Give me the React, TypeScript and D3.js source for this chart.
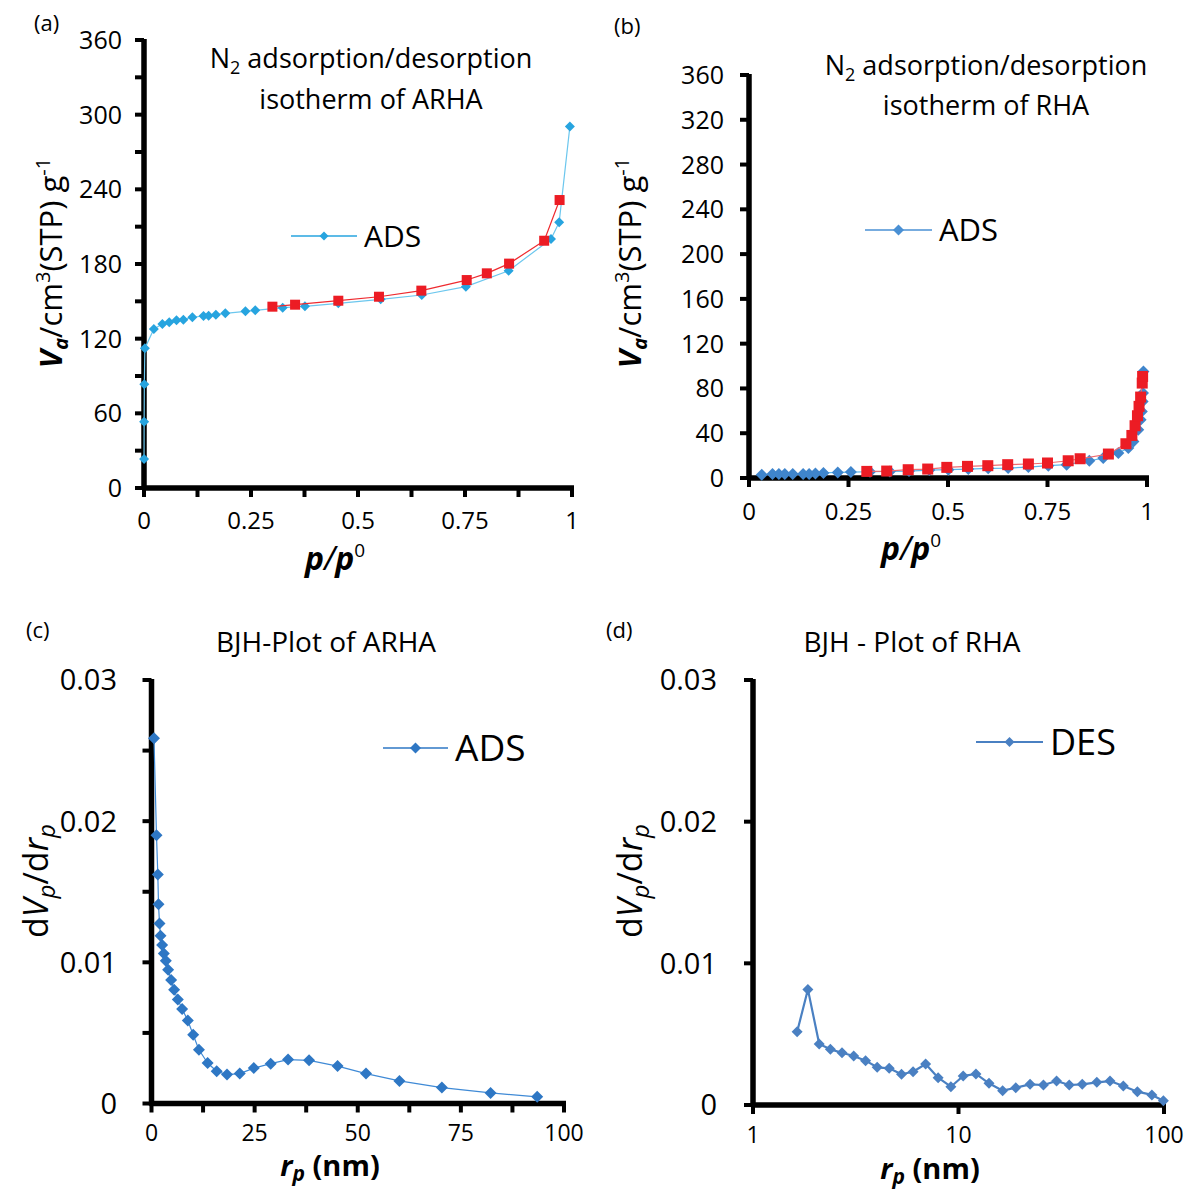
import React from 'react';
import * as d3 from 'd3';

const FONT = "'Open Sans', 'Noto Sans', sans-serif";

// ---------- Panel (a): N2 isotherm of ARHA ----------
const A_ADS_P = [0.0001, 0.0003, 0.0008, 0.002, 0.023, 0.043, 0.059, 0.076, 0.092, 0.113, 0.139, 0.151, 0.168, 0.19, 0.237, 0.26, 0.324, 0.376, 0.454, 0.553, 0.649, 0.752, 0.852, 0.951, 0.97, 0.995];
const A_ADS_V = [23.3, 53.3, 83.3, 112.2, 127.8, 131.8, 133.1, 134.7, 135.3, 137.2, 138.2, 138.5, 139.3, 140.4, 142.0, 142.8, 144.9, 146.0, 148.4, 151.6, 155.1, 161.8, 174.6, 200.1, 213.5, 290.4];
const A_DES_P = [0.3, 0.353, 0.454, 0.549, 0.648, 0.754, 0.801, 0.853, 0.935, 0.971];
const A_DES_V = [145.7, 147.3, 150.5, 153.7, 158.6, 167.1, 172.5, 180.3, 198.7, 231.4];
const A_YTICKS = [0, 60, 120, 180, 240, 300, 360];
const A_XTICKS = [0, 0.25, 0.5, 0.75, 1];
const A_XLABELS = ['0', '0.25', '0.5', '0.75', '1'];

// ---------- Panel (b): N2 isotherm of RHA ----------
const B_ADS_P = [0.032, 0.059, 0.075, 0.09, 0.11, 0.136, 0.151, 0.167, 0.187, 0.223, 0.256, 0.304, 0.354, 0.402, 0.453, 0.501, 0.551, 0.601, 0.651, 0.702, 0.752, 0.798, 0.855, 0.89, 0.928, 0.953, 0.966, 0.978, 0.984, 0.987, 0.989, 0.99, 0.991];
const B_ADS_V = [2.9, 3.5, 3.5, 3.5, 3.5, 3.6, 3.6, 4.0, 4.5, 5.0, 5.3, 5.6, 5.9, 6.2, 7.1, 7.4, 8.0, 8.6, 8.9, 9.8, 11.0, 11.9, 15.4, 17.8, 22.3, 26.8, 32.7, 43.1, 52.0, 59.5, 68.4, 75.9, 95.2];
const B_DES_P = [0.296, 0.346, 0.4, 0.449, 0.497, 0.549, 0.6, 0.65, 0.702, 0.75, 0.802, 0.832, 0.903, 0.947, 0.962, 0.97, 0.976, 0.98, 0.984, 0.988, 0.989];
const B_DES_V = [5.9, 6.2, 7.4, 8.0, 9.5, 10.4, 11.0, 11.9, 12.5, 13.4, 15.4, 17.2, 21.4, 30.6, 38.0, 46.7, 55.6, 64.0, 72.3, 84.8, 90.7];
const B_YTICKS = [0, 40, 80, 120, 160, 200, 240, 280, 320, 360];
const B_XTICKS = [0, 0.25, 0.5, 0.75, 1];
const B_XLABELS = ['0', '0.25', '0.5', '0.75', '1'];

// ---------- Panel (c): BJH plot of ARHA ----------
const C_R = [0.6, 1.21, 1.53, 1.7, 1.94, 2.18, 2.58, 2.98, 3.47, 4.03, 4.76, 5.48, 6.38, 7.43, 8.8, 10.1, 11.5, 13.6, 15.8, 18.3, 21.4, 24.8, 28.9, 33.1, 38.2, 45.1, 52.0, 60.1, 70.4, 82.2, 93.5];
const C_D = [0.02587, 0.019, 0.01623, 0.01411, 0.01275, 0.01188, 0.01122, 0.01063, 0.01011, 0.00948, 0.00875, 0.00805, 0.00736, 0.0067, 0.00588, 0.00487, 0.00381, 0.00287, 0.00228, 0.00205, 0.00212, 0.00251, 0.00282, 0.00311, 0.00306, 0.00265, 0.00212, 0.0016, 0.00113, 0.00075, 0.00047];
const C_YTICKS = [0, 0.01, 0.02, 0.03];
const C_YLABELS = ['0', '0.01', '0.02', '0.03'];
const C_XTICKS = [0, 25, 50, 75, 100];

// ---------- Panel (d): BJH plot of RHA ----------
const D_R = [1.64, 1.85, 2.1, 2.38, 2.71, 3.09, 3.53, 4.02, 4.6, 5.28, 6.01, 6.92, 7.96, 9.18, 10.54, 12.16, 14.07, 16.4, 19.0, 22.3, 25.9, 30.0, 34.6, 40.0, 47.1, 54.6, 63.4, 74.2, 87.3, 99.3];
const D_D = [0.00517, 0.00816, 0.0043, 0.00393, 0.00369, 0.00346, 0.00313, 0.00266, 0.00259, 0.00217, 0.00235, 0.00289, 0.00193, 0.00129, 0.00205, 0.00219, 0.00153, 0.00101, 0.00122, 0.00146, 0.00141, 0.00169, 0.00141, 0.00146, 0.0016, 0.00169, 0.00134, 0.00094, 0.00071, 0.0003];
const D_YTICKS = [0, 0.01, 0.02, 0.03];
const D_YLABELS = ['0', '0.01', '0.02', '0.03'];
const D_XTICKS = [1, 10, 100];

const diamondPath = (r: number) => `M0,${-r}L${r},0L0,${r}L${-r},0Z`;

function Series({ xs, ys, sx, sy, lineColor, lw, markColor, msize, shape }: any) {
  const pts: [number, number][] = xs.map((x: number, i: number) => [sx(x), sy(ys[i])]);
  const d = d3.line()(pts) || '';
  return (
    <g>
      <path d={d} fill="none" stroke={lineColor} strokeWidth={lw} strokeLinejoin="round" />
      {pts.map(([x, y], i) =>
        shape === 'square' ? (
          <rect key={i} x={x - msize / 2} y={y - msize / 2} width={msize} height={msize} fill={markColor} />
        ) : (
          <path key={i} transform={`translate(${x},${y})`} d={diamondPath(msize / 2)} fill={markColor} />
        )
      )}
    </g>
  );
}

function Axes({ sx, sy, xt, yt, xMinor, yMinor, xLabels, yLabels, xFs, yFs, xLabY, yLabX }: any) {
  const [x0, x1] = sx.range();
  const [y0, y1] = sy.range();
  const ax = sx(sx.domain()[0]);
  const ay = sy(sy.domain()[0]);
  return (
    <g>
      <line x1={ax} x2={ax} y1={y1 - 1} y2={y0 + 2} stroke="#000" strokeWidth={5.5} />
      <line x1={x0 - 2} x2={x1 + 2} y1={ay} y2={ay} stroke="#000" strokeWidth={5.5} />
      {yt.concat(yMinor || []).map((v: number, i: number) => (
        <line key={'yt' + i} x1={ax - 9} x2={ax} y1={sy(v)} y2={sy(v)} stroke="#000" strokeWidth={4} />
      ))}
      {xt.concat(xMinor || []).map((v: number, i: number) => (
        <line key={'xt' + i} x1={sx(v)} x2={sx(v)} y1={ay} y2={ay + 9} stroke="#000" strokeWidth={4} />
      ))}
      {yt.map((v: number, i: number) => (
        <text key={'yl' + i} x={yLabX} y={sy(v) + yFs * 0.36} textAnchor="end" fontSize={yFs} fontFamily={FONT}>
          {yLabels[i]}
        </text>
      ))}
      {xt.map((v: number, i: number) => (
        <text key={'xl' + i} x={sx(v)} y={xLabY} textAnchor="middle" fontSize={xFs} fontFamily={FONT}>
          {xLabels[i]}
        </text>
      ))}
    </g>
  );
}

function VaTitle({ x, y }: any) {
  return (
    <text transform={`translate(${x},${y}) rotate(-90)`} textAnchor="middle" fontSize={31} fontFamily={FONT}>
      <tspan fontWeight="bold" fontStyle="italic">V</tspan>
      <tspan fontWeight="bold" fontStyle="italic" fontSize={20} dy={6}>a</tspan>
      <tspan dy={-6}>/cm</tspan>
      <tspan fontSize={20} dy={-12}>3</tspan>
      <tspan dy={12}>(STP) g</tspan>
      <tspan fontSize={20} dy={-12}>-1</tspan>
    </text>
  );
}

function PTitle({ x, y }: any) {
  return (
    <text x={x} y={y} textAnchor="middle" fontSize={32} fontFamily={FONT} fontWeight="bold" fontStyle="italic">
      <tspan>p</tspan>
      <tspan fontWeight="normal">/</tspan>
      <tspan>p</tspan>
      <tspan fontSize={19} fontWeight="normal" fontStyle="normal" dy={-13}>0</tspan>
    </text>
  );
}

function DTitle({ x, y }: any) {
  return (
    <text transform={`translate(${x},${y}) rotate(-90)`} textAnchor="middle" fontSize={34} fontFamily={FONT}>
      <tspan>d</tspan>
      <tspan fontStyle="italic">V</tspan>
      <tspan fontStyle="italic" fontSize={24} dy={7}>p</tspan>
      <tspan dy={-7}>/d</tspan>
      <tspan fontStyle="italic">r</tspan>
      <tspan fontStyle="italic" fontSize={24} dy={7}>p</tspan>
    </text>
  );
}

function RTitle({ x, y }: any) {
  return (
    <text x={x} y={y} textAnchor="middle" fontSize={29} fontFamily={FONT} fontWeight="bold">
      <tspan fontStyle="italic">r</tspan>
      <tspan fontStyle="italic" fontSize={21} dy={5}>p</tspan>
      <tspan dy={-5}> (nm)</tspan>
    </text>
  );
}

function Legend({ x1, x2, y, color, lw, msize, label, fs }: any) {
  return (
    <g>
      <line x1={x1} x2={x2} y1={y} y2={y} stroke={color} strokeWidth={lw} />
      <path transform={`translate(${(x1 + x2) / 2},${y})`} d={diamondPath(msize / 2)} fill={color} />
      <text x={x2 + 7} y={y + fs * 0.36} fontSize={fs} fontFamily={FONT}>{label}</text>
    </g>
  );
}

function IsoTitle({ cx, y1, y2, name }: any) {
  return (
    <g fontFamily={FONT} fontSize={27}>
      <text x={cx} y={y1} textAnchor="middle">
        N<tspan fontSize={18} dy={6}>2</tspan><tspan dy={-6}> adsorption/desorption</tspan>
      </text>
      <text x={cx} y={y2} textAnchor="middle">isotherm of {name}</text>
    </g>
  );
}

export default function App() {
  // (a)
  const ax = d3.scaleLinear().domain([0, 1]).range([144, 572]);
  const ay = d3.scaleLinear().domain([0, 360]).range([488, 40]);
  // (b)
  const bx = d3.scaleLinear().domain([0, 1]).range([749, 1147]);
  const by = d3.scaleLinear().domain([0, 360]).range([478, 75]);
  // (c)
  const cx = d3.scaleLinear().domain([0, 100]).range([151.5, 564]);
  const cy = d3.scaleLinear().domain([0, 0.03]).range([1103.5, 680]);
  // (d)
  const dx = d3.scaleLog().domain([1, 100]).range([753, 1164]);
  const dy = d3.scaleLinear().domain([0, 0.03]).range([1105, 680]);

  const aYMinor = d3.range(30, 360, 60);
  const aXMinor = d3.range(0.125, 1, 0.25);
  const cYMinor = d3.range(0.005, 0.03, 0.01);
  const cXMinor = d3.range(12.5, 100, 25);

  return (
    <svg width={1195} height={1192} style={{ position: 'absolute', left: 0, top: 0, background: '#fff' }}>
      <rect width={1195} height={1192} fill="#fff" />
      {/* panel labels */}
      <g fontFamily={FONT} fontSize={22}>
        <text x={34} y={31}>(a)</text>
        <text x={614} y={34}>(b)</text>
        <text x={26} y={638}>(c)</text>
        <text x={606} y={638}>(d)</text>
      </g>

      {/* (a) */}
      <Axes sx={ax} sy={ay} xt={A_XTICKS} yt={A_YTICKS} xMinor={aXMinor} yMinor={aYMinor}
        xLabels={A_XLABELS} yLabels={A_YTICKS.map(String)} xFs={24} yFs={25} xLabY={529} yLabX={122} />
      <IsoTitle cx={371} y1={68} y2={109} name="ARHA" />
      <Series xs={A_ADS_P} ys={A_ADS_V} sx={ax} sy={ay} lineColor="#6cc7ee" lw={1.2} markColor="#27a4df" msize={10} shape="diamond" />
      <Series xs={A_DES_P} ys={A_DES_V} sx={ax} sy={ay} lineColor="#ee2a2f" lw={1.2} markColor="#ec1c24" msize={10} shape="square" />
      <Legend x1={291} x2={357} y={236} color="#27a4df" lw={1.5} msize={9} label="ADS" fs={30} />
      <VaTitle x={62} y={263} />
      <PTitle x={335} y={570} />

      {/* (b) */}
      <Axes sx={bx} sy={by} xt={B_XTICKS} yt={B_YTICKS}
        xLabels={B_XLABELS} yLabels={B_YTICKS.map(String)} xFs={24} yFs={25} xLabY={520} yLabX={724} />
      <IsoTitle cx={986} y1={75} y2={115} name="RHA" />
      <Series xs={B_ADS_P} ys={B_ADS_V} sx={bx} sy={by} lineColor="#5ab6ea" lw={1.2} markColor="#3f85cc" msize={12} shape="diamond" />
      <Series xs={B_DES_P} ys={B_DES_V} sx={bx} sy={by} lineColor="#f06a6e" lw={1.2} markColor="#ec1c24" msize={11} shape="square" />
      <Legend x1={865} x2={932} y={230} color="#4a90d4" lw={1.5} msize={11} label="ADS" fs={31} />
      <VaTitle x={641} y={263} />
      <PTitle x={911} y={560} />

      {/* (c) */}
      <Axes sx={cx} sy={cy} xt={C_XTICKS} yt={C_YTICKS} xMinor={cXMinor} yMinor={cYMinor}
        xLabels={C_XTICKS.map(String)} yLabels={C_YLABELS} xFs={23} yFs={29} xLabY={1141} yLabX={117} />
      <text x={326} y={652} textAnchor="middle" fontFamily={FONT} fontSize={28}>BJH-Plot of ARHA</text>
      <Series xs={C_R} ys={C_D} sx={cx} sy={cy} lineColor="#3f8ad6" lw={1.2} markColor="#2e77c4" msize={12} shape="diamond" />
      <Legend x1={383} x2={448} y={748} color="#2e77c4" lw={1.5} msize={11} label="ADS" fs={37} />
      <DTitle x={48} y={881} />
      <RTitle x={330} y={1176} />

      {/* (d) */}
      <Axes sx={dx} sy={dy} xt={D_XTICKS} yt={D_YTICKS}
        xLabels={D_XTICKS.map(String)} yLabels={D_YLABELS} xFs={23} yFs={29} xLabY={1143} yLabX={717} />
      <text x={912} y={652} textAnchor="middle" fontFamily={FONT} fontSize={28}>BJH - Plot of RHA</text>
      <Series xs={D_R} ys={D_D} sx={dx} sy={dy} lineColor="#4a80c2" lw={2.2} markColor="#4a80c2" msize={11} shape="diamond" />
      <Legend x1={976} x2={1043} y={742} color="#4a80c2" lw={2.2} msize={10} label="DES" fs={36} />
      <DTitle x={642} y={881} />
      <RTitle x={930} y={1179} />
    </svg>
  );
}
